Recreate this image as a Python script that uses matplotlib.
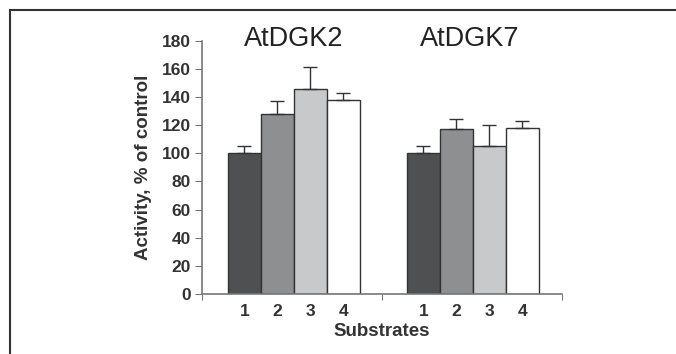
import numpy as np
import matplotlib.pyplot as plt
from matplotlib.lines import Line2D

plt.rcParams['font.family'] = ['Liberation Sans', 'DejaVu Sans']

groups = ['AtDGK2', 'AtDGK7']
substrates = ['1', '2', '3', '4']
activity = [[100, 128, 146, 138],
            [100, 117, 105, 118]]
errors = [[5, 9, 15, 4.5],
          [5, 7.5, 15, 5]]
colors = ['#4f5052', '#8e8f91', '#c8c9cb', '#ffffff']

fig = plt.figure(figsize=(6.76, 3.54), dpi=100)
ax = fig.add_axes([202 / 676, 1 - 294 / 354, 360 / 676, (294 - 40.7) / 354])

w = 0.183
centers = np.array([0.51, 1.505])
offsets = (np.arange(4) - 1.5) * w
label_pos = []
for g in range(len(groups)):
    for i in range(4):
        x = centers[g] + offsets[i]
        label_pos.append(x)
        ax.bar(x, activity[g][i], width=w, color=colors[i], edgecolor='#333333',
               linewidth=1, zorder=2)
        ax.errorbar(x, activity[g][i], yerr=[[0], [errors[g][i]]], fmt='none',
                    ecolor='#333333', elinewidth=1, capsize=5, capthick=1, zorder=3)
    ax.text(centers[g] - 0.015 * g, 181, groups[g], ha='center', va='center',
            fontsize=19.5, color='#222222', clip_on=False)

ax.set_xlim(0, 2)
ax.set_ylim(0, 180)
ax.set_yticks(np.arange(0, 181, 20))
ax.set_xticks([0, 1, 2])
ax.set_xticklabels([])
ax.set_xticks(label_pos, minor=True)
ax.set_xticklabels(substrates * 2, minor=True)
ax.tick_params(axis='x', which='minor', length=0, pad=7)
ax.tick_params(axis='x', which='major', length=4, color='#777777')
ax.tick_params(axis='y', length=5, color='#777777', pad=3)
for lab in ax.get_xticklabels(minor=True) + ax.get_yticklabels():
    lab.set_fontweight('bold')
    lab.set_fontsize(12.5)
    lab.set_color('#333333')

for s in ['top', 'right']:
    ax.spines[s].set_visible(False)
for s in ['left', 'bottom']:
    ax.spines[s].set_color('#777777')
    ax.spines[s].set_linewidth(1.2)

ax.set_xlabel('Substrates', fontsize=13.5, fontweight='bold', color='#333333', labelpad=3)
ax.set_ylabel('Activity, % of control', fontsize=13.5, fontweight='bold',
              color='#333333', labelpad=7)

# frame around figure
fig.add_artist(Line2D([10 / 676, 1], [1 - 10 / 354, 1 - 10 / 354],
                      color='#333333', linewidth=1.5))
fig.add_artist(Line2D([10 / 676, 10 / 676], [1 - 10 / 354, 0],
                      color='#333333', linewidth=1.5))

fig.savefig('out.png', dpi=100)
